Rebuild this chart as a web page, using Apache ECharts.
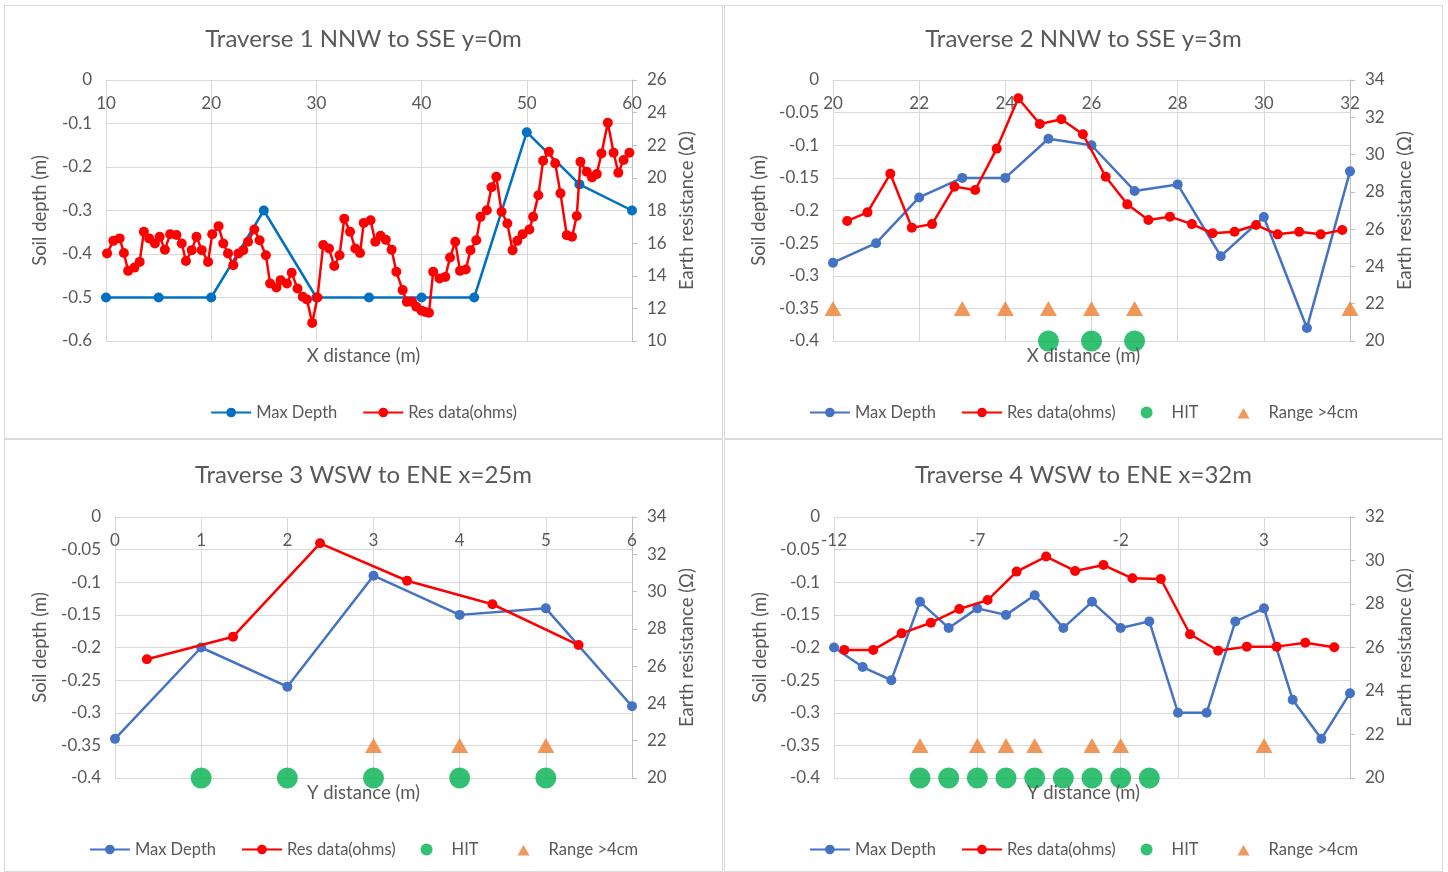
<!DOCTYPE html>
<html><head><meta charset="utf-8">
<script src="https://cdn.jsdelivr.net/npm/echarts@6/dist/echarts.min.js"></script>
<style>
html,body{margin:0;padding:0;background:#fff;width:1448px;height:872px;overflow:hidden;}
.p{position:absolute;border:1px solid #d9d9d9;box-sizing:border-box;}
</style></head><body>
<div id="c1" class="p" style="left:4px;top:5px;width:719px;height:434px"></div>
<div id="c2" class="p" style="left:724px;top:5px;width:719px;height:434px"></div>
<div id="c3" class="p" style="left:4px;top:439px;width:719px;height:433px"></div>
<div id="c4" class="p" style="left:724px;top:439px;width:719px;height:433px"></div>
<script>
// ---------- DATA ----------
const titles = ['Traverse 1 NNW to SSE y=0m','Traverse 2 NNW to SSE y=3m','Traverse 3 WSW to ENE x=25m','Traverse 4 WSW to ENE x=32m'];
const xNames = ['X distance (m)','X distance (m)','Y distance (m)','Y distance (m)'];
const leftName = 'Soil depth (m)';
const rightName = 'Earth resistance (\u03A9)';
const seriesNames = ['Max Depth','Res data(ohms)','HIT','Range >4cm'];
const hitDepth = -0.4;
const rangeDepth = -0.35;

// Traverse 1
const t1DepthX = [10,15,20,25,30,35,40,45,50,55,60];
const t1Depth  = [-0.5,-0.5,-0.5,-0.3,-0.5,-0.5,-0.5,-0.5,-0.12,-0.24,-0.3];
const t1ResX = [10.1,10.7,11.3,11.7,12.1,12.7,13.2,13.6,14.1,14.65,15.1,15.6,16.1,16.7,17.2,17.6,18.15,18.6,19.1,19.7,
  20.1,20.7,21.15,21.6,22.1,22.6,23.05,23.5,24.1,24.6,25.2,25.6,26.2,26.6,27.2,27.65,28.2,28.7,29.1,29.6,
  30.1,30.65,31.2,31.7,32.2,32.65,33.2,33.7,34.15,34.5,35.15,35.6,36.1,36.6,37.15,37.6,38.2,38.6,39.1,39.5,
  40.0,40.35,40.7,41.1,41.7,42.25,42.7,43.2,43.65,44.2,44.65,45.2,45.6,46.2,46.65,47.1,47.6,48.15,48.65,49.1,
  49.6,50.25,50.6,51.1,51.55,52.1,52.7,53.2,53.8,54.3,54.75,55.1,55.7,56.2,56.65,57.1,57.7,58.25,58.7,59.2,59.75];
const t1Res = [15.37,16.14,16.29,15.4,14.3,14.5,14.85,16.7,16.29,15.98,16.39,15.6,16.55,16.5,15.98,14.9,15.57,16.39,15.57,14.85,
  16.55,17.04,15.98,15.37,14.65,15.37,15.57,16.08,16.84,16.18,15.26,13.53,13.28,13.73,13.53,14.18,13.22,12.71,12.55,11.11,
  12.67,15.88,15.67,14.6,15.26,17.5,16.7,15.67,15.4,17.24,17.4,16.08,16.45,16.2,15.6,14.24,13.12,12.4,12.4,12.1,
  11.85,11.78,11.73,14.24,13.83,13.93,15.12,16.08,14.3,14.38,15.57,16.18,17.61,18.02,19.42,20.07,17.92,17.2,15.57,16.14,
  16.55,16.84,17.61,18.94,21.05,21.6,20.89,19.05,16.49,16.39,17.66,20.99,20.37,20.03,20.23,21.5,23.38,21.54,20.31,21.1,21.54];

// Traverse 2
const t2DepthX = [20,21,22,23,24,25,26,27,28,29,30,31,32];
const t2Depth  = [-0.28,-0.25,-0.18,-0.15,-0.15,-0.09,-0.10,-0.17,-0.16,-0.27,-0.21,-0.38,-0.14];
const t2ResX = [20.33,20.8,21.33,21.83,22.3,22.82,23.3,23.8,24.3,24.8,25.3,25.8,26.33,26.83,27.32,27.82,28.33,28.81,29.32,29.82,30.32,30.82,31.32,31.82];
const t2Res  = [26.44,26.9,28.97,26.08,26.27,28.28,28.1,30.32,33.02,31.64,31.89,31.09,28.81,27.33,26.49,26.67,26.27,25.78,25.86,26.22,25.72,25.86,25.72,25.95];
const t2HitX = [25,26,27];
const t2RangeX = [20,23,24,25,26,27,32];

// Traverse 3
const t3DepthX = [0,1,2,3,4,5,6];
const t3Depth  = [-0.34,-0.2,-0.26,-0.09,-0.15,-0.14,-0.29];
const t3ResX = [0.37,1.37,2.38,3.39,4.38,5.38];
const t3Res  = [26.37,27.58,32.59,30.58,29.32,27.13];
const t3HitX = [1,2,3,4,5];
const t3RangeX = [3,4,5];

// Traverse 4
const t4DepthX = [-12,-11,-10,-9,-8,-7,-6,-5,-4,-3,-2,-1,0,1,2,3,4,5,6];
const t4Depth  = [-0.2,-0.23,-0.25,-0.13,-0.17,-0.14,-0.15,-0.12,-0.17,-0.13,-0.17,-0.16,-0.30,-0.30,-0.16,-0.14,-0.28,-0.34,-0.27];
const t4ResX = [-11.64,-10.63,-9.64,-8.62,-7.63,-6.64,-5.63,-4.6,-3.59,-2.6,-1.59,-0.6,0.42,1.4,2.4,3.44,4.44,5.45];
const t4Res  = [25.89,25.89,26.65,27.14,27.77,28.18,29.49,30.18,29.52,29.79,29.18,29.15,26.61,25.85,26.04,26.04,26.22,26.01];
const t4HitX = [-9,-8,-7,-6,-5,-4,-3,-2,-1];
const t4RangeX = [-9,-7,-6,-5,-3,-2,3];

// ---------- BUILD ----------
const FONT = 'Lato';
const TXT = '#595959';
const GRIDC = '#d9d9d9';
const TRI_ICON = 'path://M0,0 M40,12 M14,12 L20,1.5 L26,12 Z';
const zip = (xs, ys) => xs.map((x, i) => [x, ys[i]]);
const atLevel = (xs, y) => xs.map(x => [x, y]);

function build(cfg) {
  const series = [
    { name: seriesNames[0], type: 'line', yAxisIndex: 0, data: zip(cfg.dx, cfg.dy),
      symbol: 'circle', symbolSize: 10, z: 3,
      lineStyle: { color: cfg.depthColor, width: 2.5 }, itemStyle: { color: cfg.depthColor } },
    { name: seriesNames[1], type: 'line', yAxisIndex: 1, data: zip(cfg.rx, cfg.ry),
      symbol: 'circle', symbolSize: 10, z: 5,
      lineStyle: { color: '#ff0000', width: 2.5 }, itemStyle: { color: '#ff0000' } }
  ];
  const legendData = [{ name: seriesNames[0] }, { name: seriesNames[1] }];
  if (cfg.hit) {
    series.push({ name: seriesNames[2], type: 'scatter', yAxisIndex: 0, data: atLevel(cfg.hit, hitDepth),
      symbol: 'circle', symbolSize: 21, z: 4, itemStyle: { color: '#00b050' } });
    series.push({ name: seriesNames[3], type: 'scatter', yAxisIndex: 0, data: atLevel(cfg.range, rangeDepth),
      symbol: 'triangle', symbolSize: [17, 15], z: 4, itemStyle: { color: '#ed7d31' } });
    legendData.push({ name: seriesNames[2] }, { name: seriesNames[3], icon: TRI_ICON });
  }
  return {
    animation: false,
    textStyle: { fontFamily: FONT },
    title: { text: cfg.title, left: 'center', top: cfg.titleTop,
      textStyle: { fontFamily: FONT, fontSize: 24, fontWeight: 'normal', color: TXT } },
    legend: { data: legendData, left: 'center', top: cfg.legendTop, itemGap: 25, itemWidth: 40, itemHeight: 12,
      textStyle: { fontFamily: FONT, fontSize: 16.5, color: TXT } },
    grid: { left: cfg.grid[0], top: cfg.grid[1], width: cfg.grid[2], height: cfg.grid[3], containLabel: false },
    xAxis: { type: 'value', position: 'top', min: cfg.xr[0], max: cfg.xr[1], interval: cfg.xr[2],
      axisLine: { show: true, onZero: false, lineStyle: { color: GRIDC, width: 1 } },
      axisTick: { show: false },
      axisLabel: { inside: true, margin: 15, color: TXT, fontFamily: FONT, fontSize: 17, showMaxLabel: cfg.showMax !== false },
      splitLine: { show: true, lineStyle: { color: GRIDC, width: 1 } } },
    yAxis: [
      { type: 'value', position: 'left', min: cfg.yr[0], max: cfg.yr[1], interval: cfg.yr[2],
        name: leftName, nameLocation: 'middle', nameGap: cfg.leftGap, nameRotate: 90,
        nameTextStyle: { fontFamily: FONT, fontSize: 18.5, color: TXT },
        axisLine: { show: true, lineStyle: { color: GRIDC } }, axisTick: { show: false },
        axisLabel: { margin: 14, color: TXT, fontFamily: FONT, fontSize: 17 },
        splitLine: { show: true, lineStyle: { color: GRIDC, width: 1 } } },
      { type: 'value', position: 'right', min: cfg.rr[0], max: cfg.rr[1], interval: cfg.rr[2],
        name: rightName, nameLocation: 'middle', nameGap: 46, nameRotate: 90,
        nameTextStyle: { fontFamily: FONT, fontSize: 18.5, color: TXT },
        axisLine: { show: true, lineStyle: { color: '#bfbfbf' } },
        axisTick: { show: true, length: 5, lineStyle: { color: '#bfbfbf' } },
        axisLabel: { margin: 15, color: TXT, fontFamily: FONT, fontSize: 17 },
        splitLine: { show: false } }
    ],
    graphic: [{ type: 'text', z: 100, left: 'center', top: cfg.xNameTop,
      style: { text: cfg.xName, font: '18.5px ' + FONT, fill: TXT } }],
    series: series
  };
}

const cfgs = [
  { el: 'c1', title: titles[0], xName: xNames[0], titleTop: 16, legendTop: 393, xNameTop: 341,
    grid: [101, 74, 526, 261], xr: [10, 60, 10], yr: [-0.6, 0, 0.1], rr: [10, 26, 2], leftGap: 56,
    depthColor: '#0070c0', dx: t1DepthX, dy: t1Depth, rx: t1ResX, ry: t1Res },
  { el: 'c2', title: titles[1], xName: xNames[1], titleTop: 16, legendTop: 393, xNameTop: 341,
    grid: [108, 74, 517, 261], xr: [20, 32, 2], yr: [-0.4, 0, 0.05], rr: [20, 34, 2], leftGap: 63,
    depthColor: '#4472c4', dx: t2DepthX, dy: t2Depth, rx: t2ResX, ry: t2Res, hit: t2HitX, range: t2RangeX },
  { el: 'c3', title: titles[2], xName: xNames[2], titleTop: 18, legendTop: 396, xNameTop: 344,
    grid: [110, 77, 517, 261], xr: [0, 6, 1], yr: [-0.4, 0, 0.05], rr: [20, 34, 2], leftGap: 65,
    depthColor: '#4472c4', dx: t3DepthX, dy: t3Depth, rx: t3ResX, ry: t3Res, hit: t3HitX, range: t3RangeX },
  { el: 'c4', title: titles[3], xName: xNames[3], titleTop: 18, legendTop: 396, xNameTop: 344,
    grid: [109, 77, 516, 261], xr: [-12, 6, 5], yr: [-0.4, 0, 0.05], rr: [20, 32, 2], leftGap: 64, showMax: false,
    depthColor: '#4472c4', dx: t4DepthX, dy: t4Depth, rx: t4ResX, ry: t4Res, hit: t4HitX, range: t4RangeX }
];

cfgs.forEach(cfg => {
  const chart = echarts.init(document.getElementById(cfg.el), null, { renderer: 'canvas' });
  chart.setOption(build(cfg));
});
</script>
</body></html>
